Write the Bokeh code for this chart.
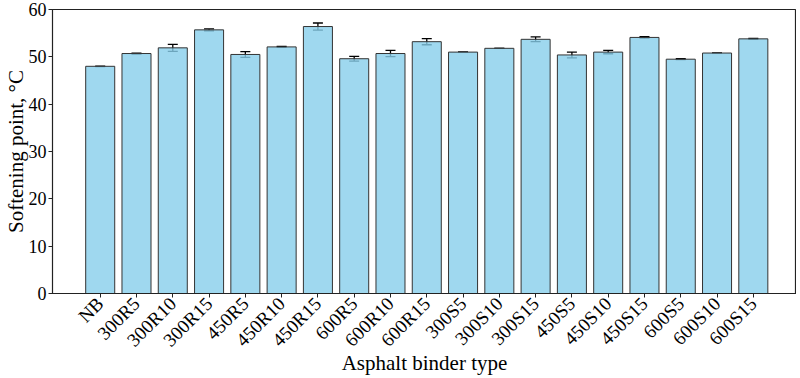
import math
from bokeh.plotting import figure
from bokeh.models import ColumnDataSource, Range1d, FixedTicker, Whisker, TeeHead
from bokeh.embed import file_html
from bokeh.resources import INLINE

categories = ["NB", "300R5", "300R10", "300R15", "450R5", "450R10", "450R15",
              "600R5", "600R10", "600R15", "300S5", "300S10", "300S15",
              "450S5", "450S10", "450S15", "600S5", "600S10", "600S15"]
softening = [48.0, 50.7, 51.9, 55.7, 50.5, 52.1, 56.4,
             49.6, 50.7, 53.2, 51.0, 51.8, 53.7,
             50.4, 51.0, 54.1, 49.5, 50.8, 53.8]
errors = [0.05, 0.1, 0.75, 0.2, 0.6, 0.1, 0.75,
          0.5, 0.65, 0.65, 0.0, 0.0, 0.5,
          0.6, 0.35, 0.15, 0.1, 0.0, 0.1]
y_ticks = [0, 10, 20, 30, 40, 50, 60]

xs = list(range(len(categories)))
src = ColumnDataSource(dict(
    x=xs, top=softening,
    upper=[v + e for v, e in zip(softening, errors)],
    lower=[v - e for v, e in zip(softening, errors)],
))

FONT = "Liberation Serif"

p = figure(frame_width=744, frame_height=284, output_backend="svg", toolbar_location=None,
           x_range=Range1d(-1.315, 19.19), y_range=Range1d(0, 60),
           min_border_left=0, min_border_right=0, min_border_top=9, min_border_bottom=0)

p.vbar(x="x", top="top", width=0.8, source=src,
       fill_color="skyblue", fill_alpha=0.8,
       line_color="#333333", line_width=1)

w = Whisker(source=src, base="x", upper="upper", lower="lower",
            line_color="black", line_width=1.3,
            upper_head=TeeHead(size=10, line_color="black", line_width=1.3),
            lower_head=TeeHead(size=10, line_color="black", line_width=1.3))
p.add_layout(w)

p.grid.visible = False
p.outline_line_color = "#222222"
p.outline_line_width = 1.2

p.xaxis.ticker = FixedTicker(ticks=xs)
p.xaxis.major_label_overrides = {i: c for i, c in enumerate(categories)}
p.xaxis.major_label_orientation = math.pi / 4
p.yaxis.ticker = FixedTicker(ticks=y_ticks)

p.xaxis.axis_label = "Asphalt binder type"
p.yaxis.axis_label = "Softening point, \u00b0C"

for ax in (p.xaxis[0], p.yaxis[0]):
    ax.axis_label_text_font = FONT
    ax.axis_label_text_font_size = "21px"
    ax.axis_label_text_font_style = "normal"
    ax.axis_label_text_color = "black"
    ax.major_label_text_font = FONT
    ax.major_label_text_color = "black"
    ax.axis_line_color = "#222222"
    ax.major_tick_line_color = "#222222"
    ax.major_tick_in = 0
    ax.major_tick_out = 4
    ax.minor_tick_line_color = None

p.xaxis.major_label_text_font_size = "19px"
p.yaxis.major_label_text_font_size = "18px"
p.xaxis.major_label_standoff = 3
p.xaxis.axis_label_standoff = -10
p.yaxis.major_label_standoff = 2
p.yaxis.axis_label_standoff = -2

open("out.html", "w").write(file_html(p, INLINE))
